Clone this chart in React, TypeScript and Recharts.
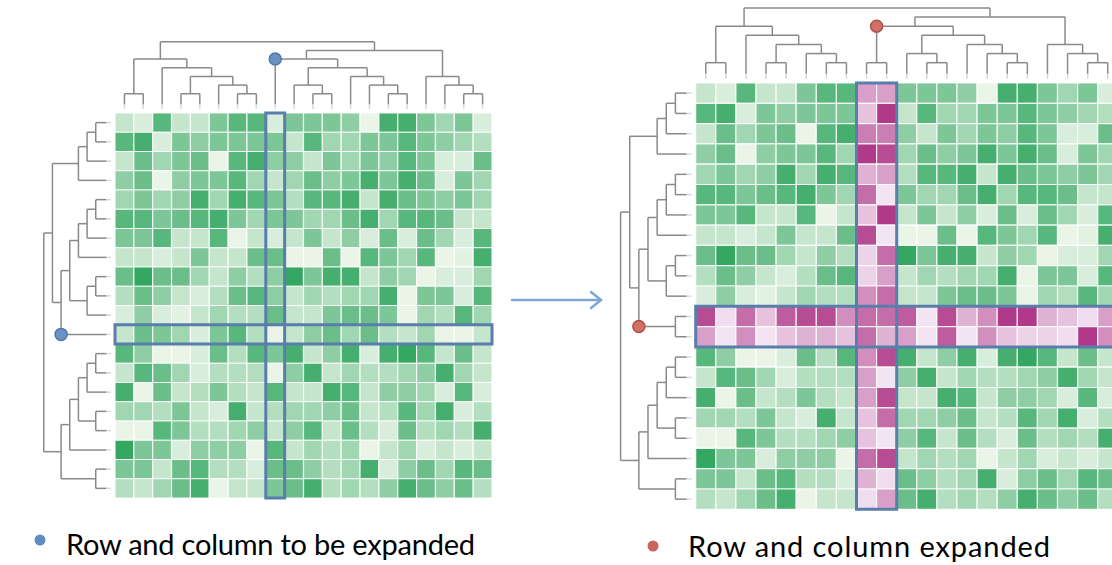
import { ComposedChart, XAxis, YAxis, ReferenceArea, ReferenceLine, ReferenceDot } from "recharts";

const W = 1112;
const H = 565;

// heatmap values, 1 = palest .. 6 = darkest (20 rows x 20 columns)
const greenRows = [
    [2, 1.5, 5, 2, 2, 4, 5, 5, 1.5, 4, 4, 4, 3.5, 1, 5.5, 5.5, 4, 3, 4, 1.5],
    [5, 5.5, 1.5, 4, 3.5, 4, 4, 4, 4, 2, 5, 3, 3, 4, 4, 5, 4, 3.5, 3, 2.5],
    [2, 4.5, 3, 4, 4.5, 1, 5, 5.5, 3.5, 3.5, 2, 4, 3, 4, 3.5, 5, 4, 1.5, 1.5, 4.5],
    [3.5, 4.5, 1, 3.5, 4, 4, 5, 3, 2, 3, 4.5, 3.5, 4, 5.5, 4, 5.5, 4.5, 1.5, 4, 3],
    [3, 4, 3, 3.5, 5.5, 3, 5.5, 5, 4, 2.5, 5, 5, 5.5, 2, 5.5, 4.5, 4, 3.5, 4, 3],
    [5, 5, 4, 4.5, 5, 5.5, 4, 3, 4, 4, 3, 3, 4.5, 5.5, 3, 5, 5, 4.5, 2, 2],
    [4, 4, 5, 2, 2, 5, 0.8, 2, 1.5, 2, 4, 2, 3.5, 1.5, 4.5, 1.5, 4.5, 3, 1.5, 5],
    [2, 2, 1.5, 2, 4, 2, 2, 4.5, 4.5, 1, 1, 4.5, 1, 5, 4, 3, 5, 1, 1.2, 5.5],
    [4.5, 6, 4.5, 4.5, 3, 2, 3.5, 2.5, 3.5, 6, 4, 5.5, 5.5, 2, 3.5, 3, 1, 1.5, 1.5, 3],
    [2.5, 4.5, 3.5, 2, 1.5, 2.5, 4.5, 5, 3.5, 2, 3, 2.5, 3, 3, 5.5, 1, 4, 4, 1.5, 5],
    [1.5, 3.5, 1.5, 1.2, 2, 3, 2.5, 2.5, 4.5, 2, 2, 4, 4.5, 4.5, 4, 1, 3, 2.5, 5, 3],
    [2, 4.5, 4, 3, 1.5, 4, 5, 2.5, 1, 2, 3.5, 4.5, 3, 4.5, 2.5, 2, 3, 1, 1, 2],
    [5, 3.5, 1, 1, 1.5, 4.5, 2.5, 5, 4, 5.5, 2, 3.5, 5.5, 1.5, 5.5, 6, 5, 2, 4.5, 2],
    [2, 5, 4.5, 3, 1.5, 2.5, 2.5, 2.5, 1, 3.5, 5.5, 2, 3, 2.5, 2.5, 3, 3.5, 5.5, 3, 2],
    [5.5, 1, 4.5, 2, 2.5, 4, 2.5, 2, 5, 2, 2, 5.5, 5, 2, 3.5, 3.5, 3, 1.5, 5, 1.5],
    [3, 3, 2.5, 4, 2, 1.5, 5.5, 2, 2.5, 3, 3, 3.5, 4.5, 2, 2.5, 5, 3, 5.5, 1.5, 2.5],
    [1, 1, 5, 4, 2.5, 2.5, 3, 3.5, 2, 3.5, 5, 2, 4.5, 2.5, 1.5, 4.5, 2.5, 3, 2.5, 5.5],
    [6, 4, 4, 1.5, 3.5, 3.5, 3.5, 1, 5, 2, 3, 2.5, 3, 1, 2, 3, 1.5, 2, 1.5, 2],
    [4, 4, 2, 4.5, 5, 2.5, 2.5, 1.5, 4.5, 4.5, 3.5, 2.5, 3, 5.5, 1.5, 3.5, 4.5, 3, 5, 4.5],
    [2.5, 2, 3, 4.5, 5.5, 1, 2, 2, 4, 4.5, 5.5, 2.5, 3, 2.5, 3.5, 5.5, 4.5, 3.5, 4.5, 2.5],
];

// the column and row that get expanded
const expandCol = 8;
const expandRow = 11;

// expanded column, two sub-columns, one value per row of the expanded grid (21 rows)
const subColA = [3, 2, 4, 6, 2.5, 4.5, 2, 5.5, 1.5, 1.5, 3.5, 4.5, 4.5, 3.5, 3, 3, 2, 2, 4.5, 2.5, 1.2];
const subColB = [3, 6, 4, 5.5, 3, 1, 6, 1, 4.5, 3, 4.5, 4.5, 2.5, 5.5, 1, 5.5, 4.5, 1, 5.5, 1.2, 3];
// expanded row, two sub-rows, one value per column of the expanded grid (21 columns)
const subRowA = [5.5, 1.2, 4.5, 2, 5, 5.5, 5.5, 3.5, 4.5, 4.5, 5, 1, 5.5, 2.5, 3.5, 6, 6, 2.5, 2, 1.2, 3];
const subRowB = [3, 1, 3.5, 1, 2, 2.5, 2.5, 2, 4.5, 2.5, 3, 1, 5, 1, 3.5, 2, 1.5, 1.5, 1.2, 6, 3.5];

// dendrograms: [level, left, right], leaves are indices
type Tree = number | [number, Tree, Tree];

const colTree: Tree = [7,
    [5, [1, 0, 1], [4, 2, [3, [1, 3, 4], [2, 5, [1, 6, 7]]]]],
    [6, [5, 8, [4, [2, 9, [1, 10, 11]], [3, 12, [2, 13, [1, 14, 15]]]]], [3, 16, [2, 17, [1, 18, 19]]]],
];

const rowTree: Tree = [7,
    [6, [3, [2, [1, 0, 1], 2], 3], [5, [4, [3, [2, [1, 4, 5], 6], 7], [2, [1, 8, 9], 10]], 11]],
    [5, [4, [3, [2, [1, 12, 13], 14], [1, 15, 16]], 17], [1, 18, 19]],
];

const legendLabels = ["Row and column to be expanded", "Row and column expanded"];

const GREEN_LO = [234, 245, 232];
const GREEN_HI = [52, 167, 98];
const PINK_LO = [243, 228, 243];
const PINK_HI = [176, 58, 137];
const BOX = "#5a7eab";
const LINE = "#8a8a8a";

function shade(v: number, lo: number[], hi: number[]) {
    const t = Math.min(1, Math.max(0, (v - 1) / 5));
    const c = lo.map((l, i) => Math.round(l + (hi[i] - l) * t));
    return `rgb(${c[0]},${c[1]},${c[2]})`;
}

// split one leaf into a two-leaf branch, shift the rest
function expand(t: Tree, e: number): Tree {
    if (typeof t === "number") {
        if (t < e) return t;
        if (t > e) return t + 1;
        return [1, e, e + 1];
    }
    return [t[0], expand(t[1], e), expand(t[2], e)];
}

function parentLevel(t: Tree, e: number): number {
    if (typeof t === "number") return -1;
    if (t[1] === e || t[2] === e) return t[0];
    return Math.max(parentLevel(t[1], e), parentLevel(t[2], e));
}

// level -> offset from the grid, in cells
const levelPos = (lvl: number) => (lvl === 0 ? -0.45 : -1 - 0.45 * (lvl - 1));

type Seg = { a: [number, number]; b: [number, number]; tip?: boolean };

function walk(t: Tree, segs: Seg[]): { pos: number; lvl: number } {
    if (typeof t === "number") {
        segs.push({ a: [t + 0.5, -0.2], b: [t + 0.5, levelPos(0)], tip: true });
        return { pos: t + 0.5, lvl: 0 };
    }
    const l = walk(t[1], segs);
    const r = walk(t[2], segs);
    const y = levelPos(t[0]);
    segs.push({ a: [l.pos, levelPos(l.lvl)], b: [l.pos, y] });
    segs.push({ a: [r.pos, levelPos(r.lvl)], b: [r.pos, y] });
    segs.push({ a: [l.pos, y], b: [r.pos, y] });
    return { pos: (l.pos + r.pos) / 2, lvl: t[0] };
}

type Cell = { r: number; c: number; fill: string };
type Box = { x1: number; x2: number; y1: number; y2: number };

function Panel(props: {
    left: number; top: number; cellW: number; cellH: number;
    cells: Cell[]; cols: Tree; rows: Tree; boxes: Box[];
    marker: { col: number; row: number; lvlCol: number; lvlRow: number };
    markerFill: string; markerStroke: string;
}) {
    const { left, top, cellW, cellH } = props;
    const xDomain = [-left / cellW, (W - left) / cellW];
    const yDomain = [-top / cellH, (H - top) / cellH];
    const topSegs: Seg[] = [];
    walk(props.cols, topSegs);
    const sideSegs: Seg[] = [];
    walk(props.rows, sideSegs);
    const m = props.marker;
    return (
        <ComposedChart width={W} height={H} data={[]} margin={{ top: 0, right: 0, bottom: 0, left: 0 }}>
            <XAxis type="number" dataKey="x" domain={xDomain} allowDataOverflow hide />
            <YAxis type="number" dataKey="y" domain={yDomain} allowDataOverflow reversed hide />
            {props.cells.map((d) => (
                <ReferenceArea key={`c${d.r}-${d.c}`} x1={d.c} x2={d.c + 1} y1={d.r} y2={d.r + 1}
                    fill={d.fill} fillOpacity={1} stroke="#ffffff" strokeWidth={1.2} strokeOpacity={0.85} ifOverflow="visible" />
            ))}
            {topSegs.map((s, i) => (
                <ReferenceLine key={`t${i}`} segment={[{ x: s.a[0], y: s.a[1] }, { x: s.b[0], y: s.b[1] }]}
                    stroke={s.tip ? "#d3dbe4" : LINE} strokeWidth={1.5} ifOverflow="visible" />
            ))}
            {sideSegs.map((s, i) => (
                <ReferenceLine key={`s${i}`} segment={[{ x: s.a[1] * cellH / cellW, y: s.a[0] }, { x: s.b[1] * cellH / cellW, y: s.b[0] }]}
                    stroke={s.tip ? "#d3dbe4" : LINE} strokeWidth={1.5} ifOverflow="visible" />
            ))}
            {props.boxes.map((b, i) => (
                <ReferenceArea key={`b${i}`} x1={b.x1} x2={b.x2} y1={b.y1} y2={b.y2}
                    fill="none" stroke={BOX} strokeWidth={3} ifOverflow="visible" />
            ))}
            <ReferenceDot x={m.col} y={levelPos(m.lvlCol)} r={6} fill={props.markerFill} stroke={props.markerStroke} strokeWidth={1.5} ifOverflow="visible" />
            <ReferenceDot x={levelPos(m.lvlRow) * cellH / cellW} y={m.row} r={6} fill={props.markerFill} stroke={props.markerStroke} strokeWidth={1.5} ifOverflow="visible" />
        </ComposedChart>
    );
}

export default function App() {
    const n = greenRows.length;
    const colLvl = parentLevel(colTree, expandCol);
    const rowLvl = parentLevel(rowTree, expandRow);

    const leftCells: Cell[] = [];
    greenRows.forEach((row, r) => row.forEach((v, c) => leftCells.push({ r, c, fill: shade(v, GREEN_LO, GREEN_HI) })));

    const rightCells: Cell[] = [];
    for (let r = 0; r <= n; r++) {
        for (let c = 0; c <= n; c++) {
            let fill: string;
            if (r === expandRow || r === expandRow + 1) {
                fill = shade((r === expandRow ? subRowA : subRowB)[c], PINK_LO, PINK_HI);
            } else if (c === expandCol || c === expandCol + 1) {
                fill = shade((c === expandCol ? subColA : subColB)[r], PINK_LO, PINK_HI);
            } else {
                const or = r < expandRow ? r : r - 1;
                const oc = c < expandCol ? c : c - 1;
                fill = shade(greenRows[or][oc], GREEN_LO, GREEN_HI);
            }
            rightCells.push({ r, c, fill });
        }
    }

    return (
        <div style={{ position: "absolute", left: 0, top: 0, width: W, height: H, background: "#fff", overflow: "hidden" }}>
            <div style={{ position: "absolute", left: 0, top: 0 }}>
                <Panel left={115} top={113} cellW={18.85} cellH={19.25}
                    cells={leftCells} cols={colTree} rows={rowTree}
                    boxes={[
                        { x1: expandCol, x2: expandCol + 1, y1: 0, y2: n },
                        { x1: 0, x2: n, y1: expandRow, y2: expandRow + 1 },
                    ]}
                    marker={{ col: expandCol + 0.5, row: expandRow + 0.5, lvlCol: colLvl, lvlRow: rowLvl }}
                    markerFill="#6a93c4" markerStroke="#4f78aa" />
            </div>
            <div style={{ position: "absolute", left: 0, top: 0 }}>
                <Panel left={695.7} top={83} cellW={20.1} cellH={20.3}
                    cells={rightCells} cols={expand(colTree, expandCol)} rows={expand(rowTree, expandRow)}
                    boxes={[
                        { x1: expandCol, x2: expandCol + 2, y1: 0, y2: n + 1 },
                        { x1: 0, x2: n + 1, y1: expandRow, y2: expandRow + 2 },
                    ]}
                    marker={{ col: expandCol + 1, row: expandRow + 1, lvlCol: colLvl, lvlRow: rowLvl }}
                    markerFill="#d0716a" markerStroke="#b04e48" />
            </div>
            <svg width={W} height={H} style={{ position: "absolute", left: 0, top: 0, pointerEvents: "none" }}>
                <g stroke="#7ea7d6" strokeWidth={2.5} fill="none" strokeLinecap="round">
                    <line x1={512} y1={300} x2={601} y2={300} />
                    <polyline points="591,292 601,300 591,308" />
                </g>
                <circle cx={40} cy={540} r={5.5} fill="#5f8bc0" />
                <text x={66} y={555} fontFamily="Lato" fontSize={29} fill="#000" textLength={409} lengthAdjust="spacing">{legendLabels[0]}</text>
                <circle cx={653} cy={546} r={5.5} fill="#c8645c" />
                <text x={688} y={557} fontFamily="Lato" fontSize={29} fill="#000" textLength={362} lengthAdjust="spacing">{legendLabels[1]}</text>
            </svg>
        </div>
    );
}
